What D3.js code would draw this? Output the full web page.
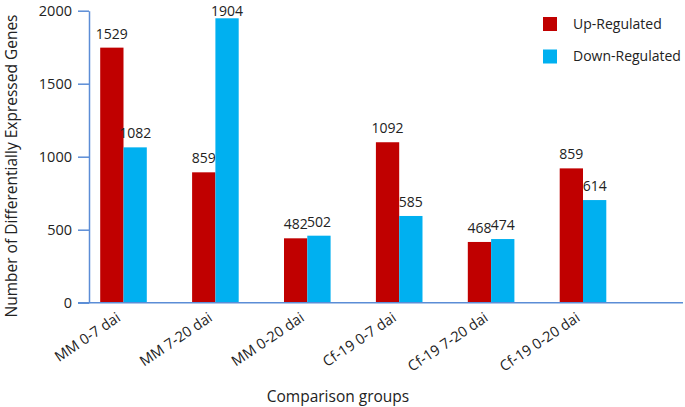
<!DOCTYPE html>
<html>
<head>
<meta charset="utf-8">
<script src="https://cdn.jsdelivr.net/npm/d3@7"></script>
<style>
  body { margin: 0; background: #fff; }
  svg text { font-family: "Open Sans", "Noto Sans", sans-serif; fill: #222; }
</style>
</head>
<body>
<div id="chart"></div>
<script>
var categories = ["MM 0-7 dai", "MM 7-20 dai", "MM 0-20 dai", "Cf-19 0-7 dai", "Cf-19 7-20 dai", "Cf-19 0-20 dai"];
// bar heights as drawn in the picture
var upValues = [1747, 893, 441, 1099, 416, 920];
var downValues = [1064, 1948, 459, 594, 436, 703];
// numbers printed above the bars
var upLabels = ["1529", "859", "482", "1092", "468", "859"];
var downLabels = ["1082", "1904", "502", "585", "474", "614"];
var seriesNames = ["Up-Regulated", "Down-Regulated"];
var yTicks = [0, 500, 1000, 1500, 2000];

function init() {
  var w = 685;
  var h = 407;
  var axisX = 89;
  var baseY = 302.7;
  var topY = 10.7;
  var red = "#c00000";
  var blue = "#00b0f0";
  var axisColor = "#5b8dd6";

  var svg = d3.select("#chart")
    .append("svg")
    .attr("width", w)
    .attr("height", h);

  var xScale = d3.scaleBand()
    .domain(categories)
    .range([77.55, 628.95])
    .paddingInner(0.493)
    .paddingOuter(0.2465);

  var xSub = d3.scaleBand()
    .domain(["up", "down"])
    .range([0, xScale.bandwidth()]);

  var yScale = d3.scaleLinear()
    .domain([0, 2000])
    .range([baseY, topY]);

  var rows = categories.map(function(c, i) {
    return [
      { cat: c, key: "up", value: upValues[i], label: upLabels[i], color: red },
      { cat: c, key: "down", value: downValues[i], label: downLabels[i], color: blue }
    ];
  });

  var groups = svg.selectAll("g.group")
    .data(rows)
    .enter()
    .append("g")
    .attr("class", "group")
    .attr("transform", d => `translate(${xScale(d[0].cat)},0)`);

  groups.selectAll("rect")
    .data(d => d)
    .enter()
    .append("rect")
    .attr("x", d => xSub(d.key))
    .attr("y", d => yScale(d.value))
    .attr("width", xSub.bandwidth())
    .attr("height", d => baseY - yScale(d.value))
    .attr("fill", d => d.color);

  // value labels (keep the tallest one inside the picture)
  groups.selectAll("text")
    .data(d => d)
    .enter()
    .append("text")
    .attr("x", d => xSub(d.key) + xSub.bandwidth() / 2)
    .attr("y", d => Math.max(yScale(d.value) - 9, 15.5))
    .attr("text-anchor", "middle")
    .style("font-size", "14px")
    .text(d => d.label);

  // y axis
  var yAxis = d3.axisLeft(yScale)
    .tickValues(yTicks)
    .tickFormat(d3.format("d"))
    .tickSize(11)
    .tickSizeOuter(0)
    .tickPadding(6);

  var gy = svg.append("g")
    .attr("transform", `translate(${axisX},0)`)
    .call(yAxis);
  gy.selectAll("path, line").attr("stroke", axisColor).attr("stroke-width", 1.5);
  gy.selectAll("text")
    .style("font-size", "14.5px")
    .style("font-family", "'Open Sans', sans-serif")
    .attr("fill", "#222");

  // baseline
  svg.append("line")
    .attr("x1", 78)
    .attr("x2", 683)
    .attr("y1", baseY)
    .attr("y2", baseY)
    .attr("stroke", axisColor)
    .attr("stroke-width", 1.5);

  // category labels
  svg.selectAll("text.cat")
    .data(categories)
    .enter()
    .append("text")
    .attr("class", "cat")
    .attr("text-anchor", "end")
    .attr("transform", d => `translate(${xScale(d) + xScale.bandwidth() / 2 - 2},320) rotate(-34)`)
    .style("font-size", "14.5px")
    .text(d => d);

  // axis titles
  svg.append("text")
    .attr("transform", "translate(17,166) rotate(-90)")
    .attr("text-anchor", "middle")
    .style("font-size", "15.5px")
    .text("Number of Differentially Expressed Genes");

  svg.append("text")
    .attr("x", 338)
    .attr("y", 402)
    .attr("text-anchor", "middle")
    .style("font-size", "15.5px")
    .text("Comparison groups");

  // legend
  var legend = svg.selectAll("g.legend")
    .data(seriesNames)
    .enter()
    .append("g")
    .attr("class", "legend")
    .attr("transform", (d, i) => `translate(543,${17 + i * 32.5})`);

  legend.append("rect")
    .attr("width", 14)
    .attr("height", 14)
    .attr("fill", (d, i) => i === 0 ? red : blue);

  legend.append("text")
    .attr("x", 30)
    .attr("y", 11.5)
    .style("font-size", "14px")
    .text(d => d);
}

window.onload = init;
</script>
</body>
</html>
